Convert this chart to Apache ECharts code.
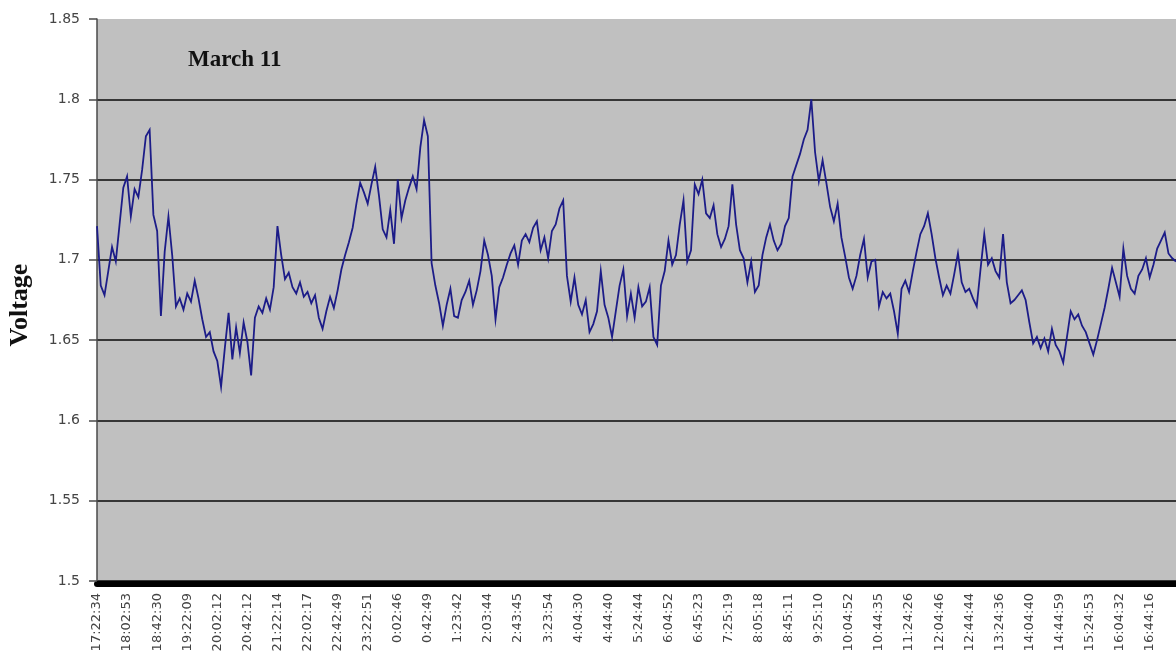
<!DOCTYPE html>
<html>
<head>
<meta charset="utf-8">
<title>March 11 – Voltage</title>
<script src="https://cdn.jsdelivr.net/npm/echarts@6/dist/echarts.min.js"></script>
<style>
  html, body { margin: 0; padding: 0; background: #ffffff; }
  #chart { width: 1176px; height: 659px; }
</style>
</head>
<body>
<div id="chart"></div>
<script>
// Time stamps printed under the axis, one every 8 readings
const tickLabels = [
  '17:22:34', '18:02:53', '18:42:30', '19:22:09', '20:02:12', '20:42:12',
  '21:22:14', '22:02:17', '22:42:49', '23:22:51', '0:02:46', '0:42:49',
  '1:23:42', '2:03:44', '2:43:45', '3:23:54', '4:04:30', '4:44:40',
  '5:24:44', '6:04:52', '6:45:23', '7:25:19', '8:05:18', '8:45:11',
  '9:25:10', '10:04:52', '10:44:35', '11:24:26', '12:04:46', '12:44:44',
  '13:24:36', '14:04:40', '14:44:59', '15:24:53', '16:04:32', '16:44:16'
];
const readingsPerTick = 8;

// Voltage readings, ~5 minutes apart, grouped by tick interval
const voltage = [
  1.721, 1.684, 1.678, 1.693, 1.708, 1.699, 1.722, 1.745,
  1.752, 1.727, 1.744, 1.739, 1.756, 1.777, 1.781, 1.728,
  1.718, 1.665, 1.705, 1.727, 1.703, 1.671, 1.676, 1.669,
  1.679, 1.674, 1.687, 1.676, 1.663, 1.652, 1.655, 1.643,
  1.637, 1.621, 1.645, 1.667, 1.638, 1.658, 1.642, 1.661,
  1.649, 1.628, 1.664, 1.671, 1.667, 1.676, 1.669, 1.683,
  1.721, 1.703, 1.688, 1.692, 1.683, 1.679, 1.686, 1.677,
  1.680, 1.673, 1.678, 1.664, 1.657, 1.668, 1.677, 1.670,
  1.681, 1.694, 1.703, 1.711, 1.720, 1.735, 1.748, 1.742,
  1.735, 1.747, 1.758, 1.740, 1.719, 1.714, 1.731, 1.710,
  1.750, 1.726, 1.737, 1.745, 1.752, 1.744, 1.770, 1.787,
  1.777, 1.698, 1.684, 1.673, 1.659, 1.672, 1.682, 1.665,
  1.664, 1.675, 1.680, 1.687, 1.672, 1.681, 1.693, 1.712,
  1.703, 1.690, 1.663, 1.683, 1.689, 1.697, 1.704, 1.709,
  1.697, 1.712, 1.716, 1.711, 1.720, 1.724, 1.706, 1.714,
  1.701, 1.718, 1.722, 1.732, 1.737, 1.690, 1.674, 1.689,
  1.672, 1.666, 1.675, 1.655, 1.660, 1.668, 1.693, 1.672,
  1.664, 1.652, 1.668, 1.684, 1.694, 1.665, 1.679, 1.664,
  1.683, 1.671, 1.674, 1.683, 1.652, 1.647, 1.684, 1.693,
  1.712, 1.697, 1.703, 1.722, 1.737, 1.699, 1.706, 1.747,
  1.741, 1.750, 1.729, 1.726, 1.734, 1.716, 1.708, 1.713,
  1.721, 1.747, 1.722, 1.706, 1.701, 1.686, 1.699, 1.680,
  1.684, 1.703, 1.714, 1.722, 1.712, 1.706, 1.710, 1.721,
  1.726, 1.752, 1.759, 1.766, 1.775, 1.781, 1.800, 1.767,
  1.749, 1.762, 1.748, 1.733, 1.724, 1.735, 1.714, 1.702,
  1.689, 1.682, 1.690, 1.703, 1.713, 1.689, 1.699, 1.700,
  1.671, 1.680, 1.676, 1.679, 1.668, 1.654, 1.682, 1.687,
  1.680, 1.693, 1.705, 1.716, 1.721, 1.729, 1.716, 1.701,
  1.689, 1.678, 1.684, 1.679, 1.691, 1.704, 1.686, 1.680,
  1.682, 1.676, 1.671, 1.694, 1.716, 1.697, 1.701, 1.693,
  1.689, 1.716, 1.686, 1.673, 1.675, 1.678, 1.681, 1.675,
  1.661, 1.648, 1.652, 1.645, 1.651, 1.643, 1.657, 1.647,
  1.643, 1.636, 1.652, 1.668, 1.663, 1.666, 1.659, 1.655,
  1.648, 1.641, 1.650, 1.660, 1.670, 1.682, 1.695, 1.686,
  1.677, 1.707, 1.690, 1.682, 1.679, 1.690, 1.694, 1.701,
  1.689, 1.697, 1.707, 1.712, 1.717, 1.704, 1.701, 1.699
];

const chart = echarts.init(document.getElementById('chart'), null, { renderer: 'canvas' });

const points = voltage.map((v, i) => [i, v]);
const gridLineColor = '#363636';
const labelColor = '#444444';
const serifBold = {
  fontFamily: 'Liberation Serif',
  fontWeight: 'bold',
  color: '#111111'
};

chart.setOption({
  animation: false,
  backgroundColor: '#ffffff',
  title: {
    text: 'March 11',
    left: 188,
    top: 49,
    padding: 0,
    textStyle: Object.assign({ fontSize: 23 }, serifBold)
  },
  graphic: [{
    // vertical axis caption, reading bottom to top
    type: 'text',
    x: 20,
    y: 305,
    rotation: Math.PI / 2,
    style: {
      text: 'Voltage',
      font: 'bold 26px "Liberation Serif"',
      fill: '#111111',
      align: 'center',
      verticalAlign: 'middle'
    }
  }],
  grid: {
    left: 97,
    right: 0,
    top: 19,
    bottom: 78,
    show: true,
    backgroundColor: '#c0c0c0',
    borderWidth: 0
  },
  xAxis: {
    type: 'value',
    min: 0,
    max: voltage.length - 1,
    interval: readingsPerTick,
    offset: 3,
    axisLine: { show: true, lineStyle: { color: '#000000', width: 6 } },
    axisTick: { show: false },
    splitLine: { show: false },
    axisLabel: {
      rotate: 90,
      margin: 9,
      fontFamily: 'DejaVu Sans',
      fontSize: 13,
      color: labelColor,
      showMaxLabel: false,
      formatter: (v) => {
        const k = v / readingsPerTick;
        return Number.isInteger(k) && tickLabels[k] ? tickLabels[k] : '';
      }
    }
  },
  yAxis: {
    type: 'value',
    min: 1.5,
    max: 1.85,
    interval: 0.05,
    axisLine: { show: true, lineStyle: { color: '#4a4a4a', width: 1.5 } },
    axisTick: { show: true, length: 8, lineStyle: { color: '#4a4a4a', width: 1.5 } },
    axisLabel: {
      margin: 17,
      fontFamily: 'DejaVu Sans',
      fontSize: 14,
      color: labelColor,
      formatter: (v) => String(parseFloat(v.toFixed(2)))
    },
    splitLine: {
      show: true,
      showMaxLine: false,
      lineStyle: { color: gridLineColor, width: 2 }
    }
  },
  series: [{
    type: 'line',
    data: points,
    showSymbol: false,
    symbol: 'none',
    lineStyle: { color: '#1c1c88', width: 1.8, join: 'miter' },
    z: 3
  }]
});
</script>
</body>
</html>
